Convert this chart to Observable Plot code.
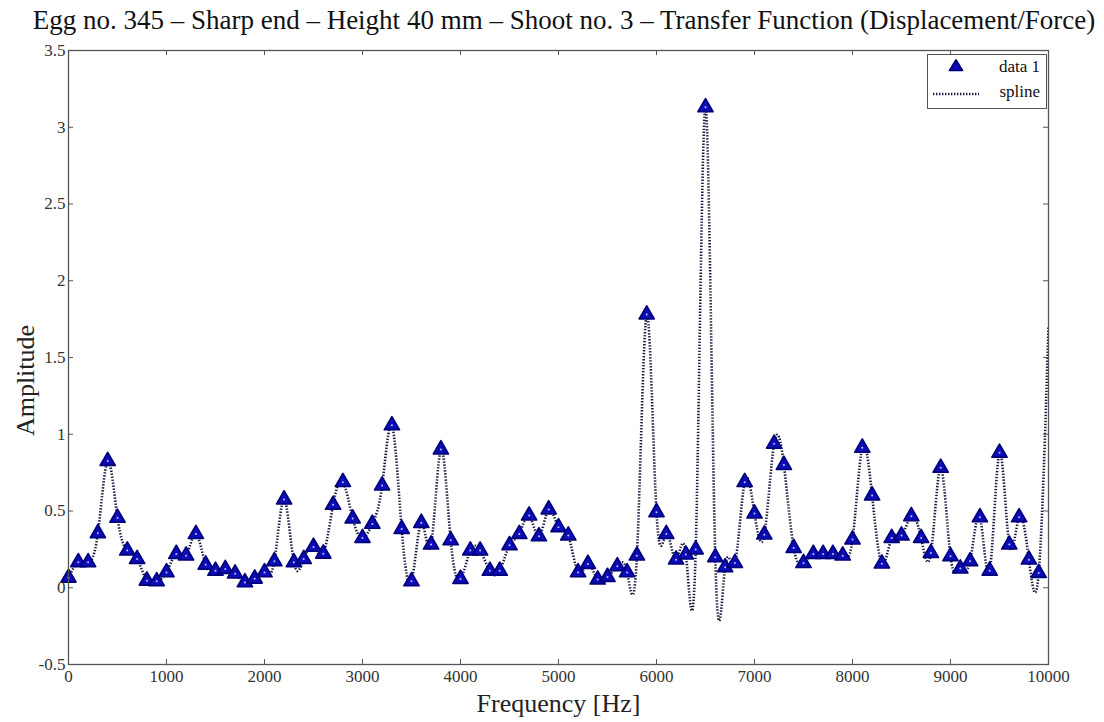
<!DOCTYPE html>
<html><head><meta charset="utf-8">
<script src="https://cdn.jsdelivr.net/npm/d3@7"></script>
<script src="https://cdn.jsdelivr.net/npm/@observablehq/plot@0.6"></script>
<style>
body{margin:0;background:#fff;font-family:"Liberation Serif","Times New Roman",serif;}
#wrap{position:relative;width:1104px;height:722px;overflow:hidden;}
#title{height:40px;line-height:40px;font-size:27px;text-align:center;padding-left:24px;box-sizing:border-box;color:#111;white-space:nowrap;}
#legend{position:absolute;left:927px;top:54px;width:120px;height:55px;border:1px solid #555;background:#fff;box-sizing:border-box;}
#legend span{position:absolute;right:6px;font-size:17px;color:#111;line-height:18px;}
#legend svg{position:absolute;left:0;top:0;}
</style></head>
<body>
<div id="wrap">
  <div id="title">Egg no. 345 – Sharp end – Height 40 mm – Shoot no. 3 – Transfer Function (Displacement/Force)</div>
  <div id="chart"></div>
  <div id="legend">
    <svg width="60" height="53"><path d="M28,5 L34.5,15.5 L21.5,15.5 Z" fill="#0c0cb8" stroke="#00007a" stroke-width="1.7" stroke-linejoin="round"/><line x1="5" y1="39" x2="51" y2="39" stroke="#1a1a40" stroke-width="2.6" stroke-dasharray="1.4,1.6" stroke-linecap="butt"/></svg>
    <span style="top:3px">data 1</span>
    <span style="top:28px">spline</span>
  </div>
</div>
<script>
// Frequencies of the sampled points (Hz)
const freq = [0,100,200,300,400,500,600,700,800,900,
  1000,1100,1200,1300,1400,1500,1600,1700,1800,1900,
  2000,2100,2200,2300,2400,2500,2600,2700,2800,2900,
  3000,3100,3200,3300,3400,3500,3600,3700,3800,3900,
  4000,4100,4200,4300,4400,4500,4600,4700,4800,4900,
  5000,5100,5200,5300,5400,5500,5600,5700,5800,5900,
  6000,6100,6200,6300,6400,6500,6600,6700,6800,6900,
  7000,7100,7200,7300,7400,7500,7600,7700,7800,7900,
  8000,8100,8200,8300,8400,8500,8600,8700,8800,8900,
  9000,9100,9200,9300,9400,9500,9600,9700,9800,9900];
// Amplitude values ("data 1")
const amplitude = [0.065,0.166,0.166,0.355,0.825,0.455,0.242,0.187,0.046,0.042,
  0.100,0.220,0.209,0.350,0.150,0.110,0.122,0.092,0.035,0.059,
  0.100,0.172,0.575,0.166,0.187,0.266,0.222,0.540,0.688,0.451,
  0.324,0.416,0.666,1.058,0.383,0.042,0.422,0.281,0.901,0.309,
  0.057,0.242,0.242,0.110,0.110,0.277,0.350,0.470,0.335,0.510,
  0.394,0.340,0.100,0.155,0.053,0.070,0.140,0.100,0.209,1.780,
  0.492,0.350,0.183,0.216,0.249,3.130,0.198,0.133,0.161,0.688,
  0.483,0.346,0.938,0.800,0.259,0.161,0.220,0.220,0.220,0.209,
  0.314,0.912,0.601,0.157,0.324,0.340,0.466,0.324,0.226,0.781,
  0.205,0.125,0.172,0.459,0.111,0.879,0.281,0.459,0.183,0.096];
// Spline end point at the right edge
const splineEndFreq = [10000];
const splineEndAmp = [1.70];
// Tick values
const xTicks = [0,1000,2000,3000,4000,5000,6000,7000,8000,9000,10000];
const yTicks = [-0.5,0,0.5,1,1.5,2,2.5,3,3.5];

const markers = freq.map((f, i) => ({f, a: amplitude[i]}));
const splineData = markers.concat(splineEndFreq.map((f, i) => ({f, a: splineEndAmp[i]})));

const W = 1104, H = 682, mT = 10, mB = 58, mL = 68, mR = 56;
const plotW = W - mL - mR, plotH = H - mT - mB, TICK = 5;
const axisColor = "#555";

const chart = Plot.plot({
  width: W, height: H, marginTop: mT, marginBottom: mB, marginLeft: mL, marginRight: mR,
  style: {fontFamily: "'Liberation Serif', 'Times New Roman', serif", fontSize: "17px", color: "#222", background: "white"},
  x: {domain: [0, 10000], axis: null},
  y: {domain: [-0.5, 3.5], axis: null},
  marks: [
    Plot.line(splineData, {x: "f", y: "a", curve: "natural", stroke: "#1a1a40", strokeWidth: 2.6, strokeDasharray: "1.4,1.6", strokeLinecap: "butt", clip: true}),
    Plot.dot(markers, {x: "f", y: "a", symbol: "triangle", r: 5.6, fill: "#0c0cb8", stroke: "#00007a", strokeWidth: 1.7, strokeLinejoin: "round"}),
    Plot.dot(markers, {x: "f", y: "a", r: 1, fill: "#c0c0ff"}),
    Plot.frame({stroke: axisColor, strokeWidth: 1.3}),
    Plot.tickX(xTicks, {x: d => d, stroke: axisColor, insetTop: plotH - TICK}),
    Plot.tickX(xTicks, {x: d => d, stroke: axisColor, insetBottom: plotH - TICK}),
    Plot.tickY(yTicks, {y: d => d, stroke: axisColor, insetRight: plotW - TICK}),
    Plot.tickY(yTicks, {y: d => d, stroke: axisColor, insetLeft: plotW - TICK}),
    Plot.axisX(xTicks, {tickSize: 0, tickPadding: 5, label: null, tickFormat: d => String(d), fill: "#333"}),
    Plot.axisY(yTicks, {tickSize: 0, tickPadding: 3, label: null, tickFormat: d => String(d), fill: "#333"}),
    Plot.text(["Frequency [Hz]"], {frameAnchor: "bottom", dy: 39, fontSize: 26, lineAnchor: "middle", textAnchor: "middle", fill: "#222"}),
    Plot.text(["Amplitude"], {frameAnchor: "left", dx: -43, dy: 23, rotate: -90, fontSize: 26, textAnchor: "middle", lineAnchor: "middle", fill: "#222"})
  ]
});
document.getElementById("chart").appendChild(chart);
</script>
</body></html>
